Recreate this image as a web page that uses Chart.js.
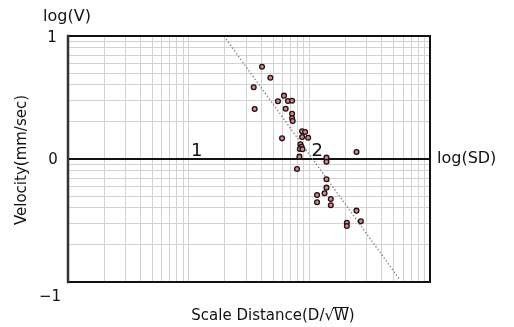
<!DOCTYPE html>
<html>
<head>
<meta charset="utf-8">
<script src="https://cdn.jsdelivr.net/npm/chart.js@4/dist/chart.umd.min.js"></script>
<style>
  html, body { margin: 0; padding: 0; background: #fff; }
  #wrap { width: 514px; height: 327px; position: relative; }
</style>
</head>
<body>
<div id="wrap"><canvas id="chart"></canvas></div>
<script>
// measured points, both axes already in log10
const logSD = [1.608, 1.677, 1.539, 1.547, 1.790, 1.740, 1.823, 1.857, 1.804, 1.857,
               1.857, 1.862, 1.940, 1.965, 1.940, 1.990, 1.774, 1.926, 1.935, 1.921,
               1.943, 1.918, 2.142, 2.142, 2.391, 1.898, 2.142, 2.142, 2.126, 2.064,
               2.178, 2.064, 2.178, 2.391, 2.427, 2.311, 2.311];
const logV = [0.750, 0.661, 0.583, 0.407, 0.515, 0.469, 0.472, 0.474, 0.409, 0.368,
              0.331, 0.309, 0.225, 0.220, 0.179, 0.173, 0.168, 0.120, 0.100, 0.081,
              0.079, 0.019, 0.011, -0.022, 0.057, -0.081, -0.165, -0.233, -0.279, -0.293,
              -0.325, -0.352, -0.376, -0.420, -0.507, -0.518, -0.545];

// fitted attenuation line
const trendSD = [1.31, 2.745];
const trendV = [0.975, -0.975];

const yTickValues = [1, 0, -1];
const yTickLabels = ['1', '0', '\u22121'];
const decadeValues = [1, 2];
const decadeLabels = ['1', '2'];

const FONT = '"DejaVu Sans", sans-serif';

// log-cycle grid: 1..9 inside each decade
const xGrid = [];
for (let d = 0; d < 3; d++) {
    for (let k = 1; k <= 9; k++) xGrid.push(d + Math.log10(k));
}
xGrid.push(3);
const yGrid = [];
for (let k = 1; k <= 9; k++) yGrid.push(Math.log10(k) - 1);
for (let k = 1; k <= 9; k++) yGrid.push(Math.log10(k));
yGrid.push(1);

const points = logSD.map((x, i) => ({ x, y: logV[i] }));
const trend = trendSD.map((x, i) => ({ x, y: trendV[i] }));

const frame = {
    id: 'frame',
    afterDraw(chart) {
        const { ctx, chartArea: a } = chart;
        ctx.save();
        ctx.lineCap = 'square';
        ctx.strokeStyle = '#111';
        ctx.lineWidth = 2;
        ctx.beginPath();
        ctx.moveTo(a.left, a.top); ctx.lineTo(a.right, a.top);
        ctx.lineTo(a.right, a.bottom); ctx.lineTo(a.left, a.bottom);
        ctx.stroke();
        ctx.strokeStyle = '#333';
        ctx.lineWidth = 2.5;
        ctx.beginPath();
        ctx.moveTo(a.left, a.top); ctx.lineTo(a.left, a.bottom);
        ctx.stroke();
        ctx.restore();
    }
};

const labels = {
    id: 'labels',
    afterDraw(chart) {
        const { ctx, chartArea: a, scales: { x, y } } = chart;
        ctx.save();
        ctx.fillStyle = '#111';
        ctx.textBaseline = 'middle';

        // y tick labels, -1 sits below the frame
        ctx.font = '15px ' + FONT;
        ctx.textAlign = 'center';
        const yOff = [2, 1, 15];
        const xPos = [52, 53, 50];
        yTickValues.forEach((v, i) => {
            ctx.fillText(yTickLabels[i], xPos[i], y.getPixelForValue(v) + yOff[i]);
        });

        ctx.font = '16px ' + FONT;
        ctx.fillText('log(V)', 67, 17);

        ctx.textAlign = 'left';
        ctx.fillText('log(SD)', a.right + 7, y.getPixelForValue(0));

        // decade markers on the zero line
        ctx.font = '18px ' + FONT;
        ctx.textAlign = 'center';
        ctx.textBaseline = 'alphabetic';
        decadeValues.forEach((v, i) => {
            ctx.fillText(decadeLabels[i], x.getPixelForValue(v) + 8, y.getPixelForValue(0) - 3);
        });

        // x title with overbar on the radicand
        ctx.font = '15px ' + FONT;
        ctx.textAlign = 'left';
        ctx.textBaseline = 'alphabetic';
        const title = 'Scale Distance(D/\u221AW)';
        const w = ctx.measureText(title).width;
        const tx = 273 - w / 2, ty = 320;
        ctx.fillText(title, tx, ty);
        const pre = ctx.measureText('Scale Distance(D/\u221A').width;
        const wW = ctx.measureText('W').width;
        ctx.strokeStyle = '#111';
        ctx.lineWidth = 1;
        ctx.beginPath();
        ctx.moveTo(tx + pre - 1, ty - 12.5);
        ctx.lineTo(tx + pre + wW, ty - 12.5);
        ctx.stroke();

        // y title
        ctx.translate(22, 160);
        ctx.rotate(-Math.PI / 2);
        ctx.textAlign = 'center';
        ctx.textBaseline = 'middle';
        ctx.font = '15px ' + FONT;
        ctx.fillText('Velocity(mm/sec)', 0, 0);
        ctx.restore();
    }
};

new Chart(document.getElementById('chart'), {
    type: 'scatter',
    data: {
        datasets: [{
            data: points,
            pointRadius: 2.4,
            pointBackgroundColor: '#ec7f7f',
            pointBorderColor: '#151515',
            pointBorderWidth: 1.3,
            order: 0
        }, {
            type: 'line',
            data: trend,
            borderColor: '#777',
            borderWidth: 1.3,
            borderDash: [1.3, 2.2],
            pointRadius: 0,
            fill: false,
            order: 1
        }]
    },
    options: {
        responsive: true,
        maintainAspectRatio: false,
        animation: false,
        layout: { padding: { left: 68, top: 36, right: 84, bottom: 45 } },
        plugins: { legend: { display: false }, tooltip: { enabled: false } },
        scales: {
            x: {
                type: 'linear', min: 0, max: 3,
                afterBuildTicks: s => { s.ticks = xGrid.map(v => ({ value: v })); },
                ticks: { display: false },
                grid: { color: '#d2d2d2', drawTicks: false },
                border: { display: false }
            },
            y: {
                type: 'linear', min: -1, max: 1,
                afterBuildTicks: s => { s.ticks = yGrid.map(v => ({ value: v })); },
                ticks: { display: false },
                grid: {
                    color: c => c.tick && Math.abs(c.tick.value) < 1e-9 ? '#111' : '#d2d2d2',
                    lineWidth: c => c.tick && Math.abs(c.tick.value) < 1e-9 ? 2 : 1,
                    drawTicks: false
                },
                border: { display: false }
            }
        }
    },
    plugins: [frame, labels]
});
</script>
</body>
</html>
